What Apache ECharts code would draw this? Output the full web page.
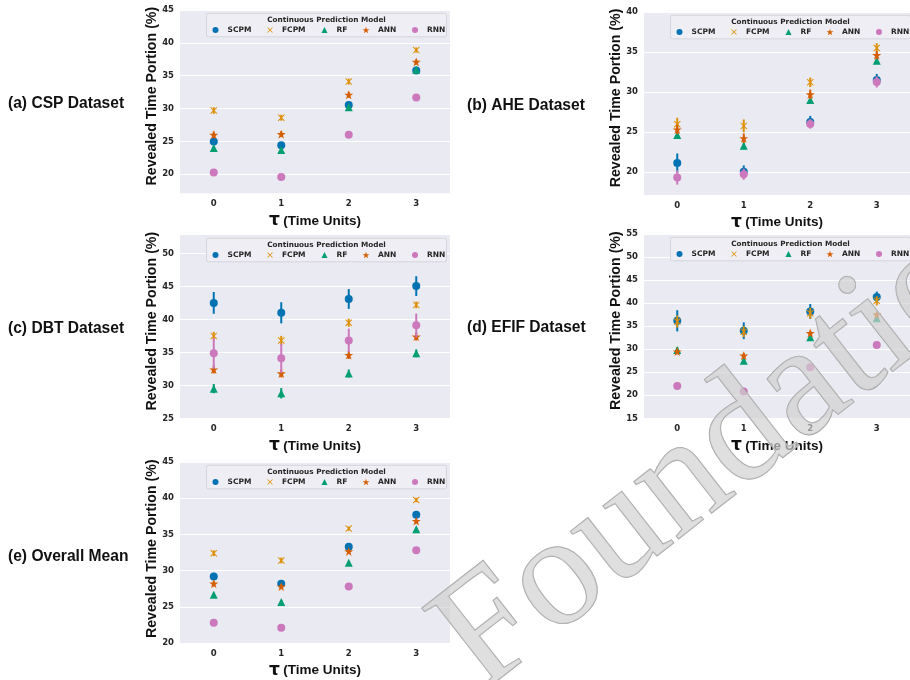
<!DOCTYPE html>
<html><head><meta charset="utf-8">
<script src="https://cdn.jsdelivr.net/npm/echarts@6/dist/echarts.min.js"></script>
<style>html,body{margin:0;padding:0;background:#fff}#c{width:910px;height:680px}</style>
</head><body><div id="c"></div>
<script>
// ---------- data ----------
const taus = ['0', '1', '2', '3'];
const models = ['SCPM', 'FCPM', 'RF', 'ANN', 'RNN'];
const legendTitle = 'Continuous Prediction Model';
const panelLabels = ['(a) CSP Dataset', '(b) AHE Dataset', '(c) DBT Dataset', '(d) EFIF Dataset', '(e) Overall Mean'];
const yAxisTitle = 'Revealed Time Portion (%)';

// rows: SCPM, FCPM, RF, ANN, RNN ; columns: tau 0..3
const cspMean = [[25.0, 24.4, 30.55, 35.8], [29.7, 28.6, 34.1, 38.9], [24.0, 23.7, 30.2, 35.9], [26.0, 26.1, 32.1, 37.1], [20.25, 19.6, 26.0, 31.7]];
const cspErr  = [[0.35, 0.5, 0.45, 0.5], [0.5, 0.45, 0.45, 0.4], [0.3, 0.3, 0.4, 0.45], [0.5, 0.45, 0.45, 0.4], [0.35, 0.35, 0.3, 0.35]];
const aheMean = [[21.1, 20.0, 26.25, 31.5], [25.96, 25.75, 31.2, 35.5], [24.6, 23.25, 29.0, 33.9], [25.3, 24.2, 29.7, 34.6], [19.3, 19.7, 26.0, 31.25]];
const aheErr  = [[1.2, 0.8, 0.75, 0.75], [0.8, 0.8, 0.6, 0.6], [0.4, 0.45, 0.4, 0.4], [0.6, 0.6, 0.6, 0.5], [0.9, 0.7, 0.6, 0.7]];
const dbtMean = [[42.5, 41.0, 43.1, 45.05], [37.5, 36.8, 39.5, 42.2], [29.5, 28.8, 31.8, 34.85], [32.4, 31.8, 34.6, 37.4], [34.85, 34.1, 36.8, 39.1]];
const dbtErr  = [[1.65, 1.6, 1.5, 1.5], [0.6, 0.7, 0.6, 0.5], [0.7, 0.8, 0.6, 0.6], [0.6, 0.6, 0.6, 0.6], [2.3, 2.2, 1.8, 1.8]];
const efifMean = [[36.16, 34.0, 38.2, 41.3], [36.0, 33.8, 37.8, 40.5], [29.85, 27.5, 32.6, 36.7], [29.5, 28.6, 33.5, 37.5], [22.0, 20.8, 26.1, 30.9]];
const efifErr  = [[2.3, 1.8, 1.6, 1.2], [1.3, 1.2, 1.2, 1.0], [0.6, 0.4, 0.4, 0.4], [0.6, 0.6, 0.5, 0.5], [0.7, 0.6, 0.6, 0.6]];
const meanMean = [[29.2, 28.2, 33.3, 37.7], [32.4, 31.4, 35.8, 39.75], [26.65, 25.65, 31.1, 35.7], [28.2, 27.8, 32.65, 36.85], [22.8, 22.1, 27.8, 32.8]];
const meanErr  = [[0.5, 0.4, 0.4, 0.35], [0.4, 0.4, 0.3, 0.3], [0.3, 0.3, 0.2, 0.2], [0.4, 0.3, 0.3, 0.3], [0.4, 0.4, 0.4, 0.4]];

const ticksA = [20, 25, 30, 35, 40, 45];
const ticksB = [20, 25, 30, 35, 40];
const ticksC = [25, 30, 35, 40, 45, 50];
const ticksD = [15, 20, 25, 30, 35, 40, 45, 50, 55];
const ticksE = [20, 25, 30, 35, 40, 45];
const watermark = 'Foundation';

// ---------- styling ----------
const colors = ['#0173b2', '#de8f05', '#029e73', '#d55e00', '#cc78bc'];
const symbols = [
  'circle',
  'path://M1,0L5,4L9,0L10,1L6,5L10,9L9,10L5,6L1,10L0,9L4,5L0,1Z',
  'triangle',
  'path://M5,0L6.2,3.6L10,3.6L6.9,5.9L8.1,9.5L5,7.3L1.9,9.5L3.1,5.9L0,3.6L3.8,3.6Z',
  'circle'
];
const symSizes = [8, 7, 8, 9, 8];
const legendIconSizes = [6, 5.5, 6, 7, 6];
const legendOffsets = [35.5, 90, 144.5, 186, 235];
const panels = [
  {mean: cspMean, err: cspErr, ticks: ticksA, min: 17.1, max: 45, left: 180, top: 10, width: 270, height: 183.3},
  {mean: aheMean, err: aheErr, ticks: ticksB, min: 17.1, max: 40, left: 644, top: 12, width: 272, height: 183},
  {mean: dbtMean, err: dbtErr, ticks: ticksC, min: 25, max: 52.8, left: 180, top: 235, width: 270, height: 183.3},
  {mean: efifMean, err: efifErr, ticks: ticksD, min: 15, max: 55, left: 644, top: 234, width: 272, height: 184.3},
  {mean: meanMean, err: meanErr, ticks: ticksE, min: 20, max: 45, left: 180, top: 462, width: 270, height: 184.5}
];
const tickFont = {fontFamily: 'DejaVu Sans', fontWeight: 'bold', fontSize: 8.5, color: '#262626'};

const grid = [], xAxis = [], yAxis = [], series = [], legend = [], graphic = [];
panels.forEach((p, gi) => {
  grid.push({left: p.left, top: p.top, width: p.width, height: p.height, backgroundColor: '#EAEAF2', show: true, borderWidth: 0});
  xAxis.push({
    type: 'category', gridIndex: gi, data: taus, boundaryGap: true,
    axisLine: {show: false}, axisTick: {show: false}, splitLine: {show: false},
    axisLabel: Object.assign({margin: 6}, tickFont),
    name: '{t|τ} {n|(Time Units)}', nameLocation: 'middle', nameGap: 19,
    nameTextStyle: {rich: {
      t: {fontFamily: 'DejaVu Sans', fontWeight: 'bold', fontSize: 17, color: '#111'},
      n: {fontFamily: 'Liberation Sans', fontWeight: 'bold', fontSize: 13.5, color: '#111'}
    }}
  });
  yAxis.push({
    type: 'value', gridIndex: gi, min: p.min, max: p.max,
    axisLine: {show: false},
    axisTick: {show: false, customValues: p.ticks},
    axisLabel: Object.assign({margin: 6, customValues: p.ticks}, tickFont),
    splitLine: {show: true, lineStyle: {color: '#ffffff', width: 1}}
  });
  // y-axis title
  graphic.push({type: 'text', x: p.left - 28, y: p.top + p.height / 2 - 5.5, rotation: Math.PI / 2,
    style: {text: yAxisTitle, fontFamily: 'Liberation Sans', fontWeight: 'bold', fontSize: 14.2, fill: '#111', align: 'center', verticalAlign: 'middle'}});
  models.forEach((m, mi) => {
    const mean = p.mean[mi], err = p.err[mi];
    series.push({
      type: 'custom', name: m + ' CI', xAxisIndex: gi, yAxisIndex: gi, silent: true, z: 2 + mi * 2,
      data: mean.map((v, i) => [i, v - err[i], v + err[i]]),
      encode: {x: 0, y: [1, 2]},
      renderItem: (params, api) => {
        const a = api.coord([api.value(0), api.value(1)]);
        const b = api.coord([api.value(0), api.value(2)]);
        return {type: 'line', shape: {x1: a[0], y1: a[1], x2: b[0], y2: b[1]}, style: {stroke: colors[mi], lineWidth: 2}};
      }
    });
    series.push({
      type: 'scatter', name: m, xAxisIndex: gi, yAxisIndex: gi, z: 3 + mi * 2, silent: true,
      symbol: symbols[mi], symbolSize: symSizes[mi], itemStyle: {color: colors[mi], opacity: 1},
      data: mean.map((v, i) => [i, v])
    });
    // one legend entry per model, placed like the reference legend columns
    const s = legendIconSizes[mi];
    legend.push({
      left: p.left + legendOffsets[mi] - s / 2, top: p.top + 21 - 5, itemWidth: s, itemHeight: s, itemGap: 0, padding: 0,
      selectedMode: false, z: 52, data: [{name: m, icon: symbols[mi]}],
      textStyle: {fontFamily: 'DejaVu Sans', fontWeight: 'bold', fontSize: 7.5, color: '#262626', padding: [0, 0, 0, 12 - s / 2 - 5]}
    });
  });
  // legend box + title
  const bx = p.left + 26.5, by = p.top + 3.3;
  graphic.push({type: 'rect', shape: {x: bx, y: by, width: 240, height: 23.5, r: 2}, style: {fill: '#EEEEF4', stroke: '#D4D4DA', lineWidth: 1}, z: 50});
  graphic.push({type: 'text', x: bx + 120, y: p.top + 10.2, style: {text: legendTitle, fontFamily: 'DejaVu Sans', fontWeight: 'bold', fontSize: 7.3, fill: '#262626', align: 'center', verticalAlign: 'middle'}, z: 51});
  // panel label
  graphic.push({type: 'text', x: gi % 2 === 0 ? 8 : 467, y: p.top + p.height / 2 + 2,
    style: {text: panelLabels[gi], fontFamily: 'Liberation Sans', fontWeight: 'bold', fontSize: 15.6, fill: '#111', verticalAlign: 'middle'}});
});
// watermark
graphic.push({type: 'text', x: 505, y: 722, rotation: Math.PI * 38 / 180, z: 100, silent: true,
  style: {text: watermark, fontFamily: 'Liberation Serif', fontSize: 158, fill: 'rgba(208,208,208,0.68)', stroke: '#a5a5a5', lineWidth: 1.3, verticalAlign: 'bottom'}});

const chart = echarts.init(document.getElementById('c'), null, {renderer: 'canvas'});
chart.setOption({animation: false, backgroundColor: '#ffffff', grid, xAxis, yAxis, series, legend, graphic});
</script>
</body></html>
